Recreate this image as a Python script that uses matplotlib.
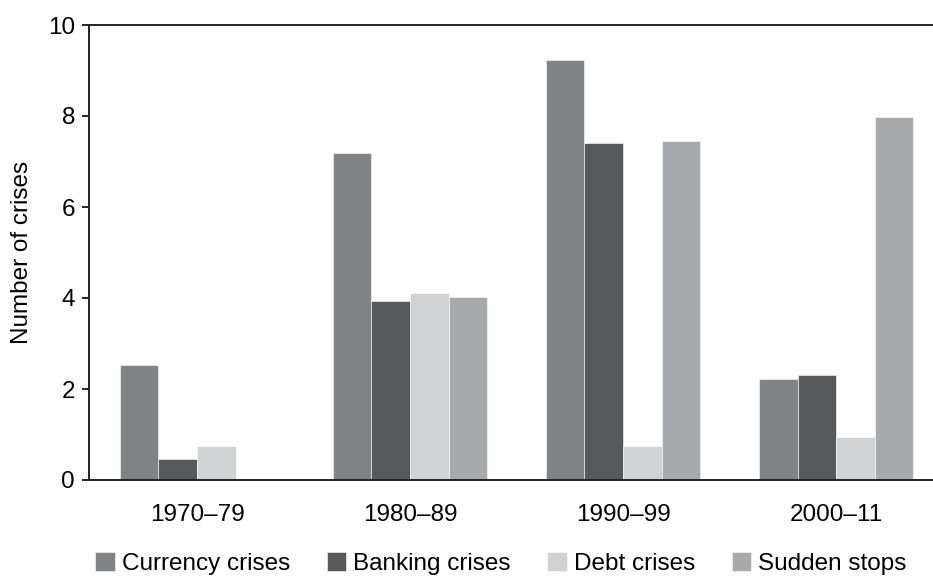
import matplotlib
matplotlib.use("Agg")
import matplotlib.pyplot as plt
import numpy as np

periods = ["1970\u201379", "1980\u201389", "1990\u201399", "2000\u201311"]
series_names = ["Currency crises", "Banking crises", "Debt crises", "Sudden stops"]
currency = [2.52, 7.19, 9.23, 2.21]
banking = [0.46, 3.93, 7.41, 2.30]
debt = [0.75, 4.10, 0.75, 0.94]
sudden = [0.0, 4.03, 7.46, 7.98]
colors = ["#808285", "#58595b", "#d1d2d4", "#a7a9ac"]

plt.rcParams['font.family'] = ['Liberation Sans', 'DejaVu Sans']

fig = plt.figure(figsize=(9.33, 5.76), dpi=100)
ax = fig.add_axes([89/933, 96/576, 1 - 89/933, (480-25)/576])

x = np.arange(len(periods))
w = 0.181
data = [currency, banking, debt, sudden]
for i, (vals, name, c) in enumerate(zip(data, series_names, colors)):
    ax.bar(x + (i - 1.5) * w, vals, width=w, color=c, label=name,
           edgecolor="white", linewidth=0.4)

ax.set_xlim(-0.507, 3.455)
ax.set_ylim(0, 10)
ax.set_yticks([0, 2, 4, 6, 8, 10])
ax.set_xticks(x)
ax.set_xticklabels(periods)
ax.tick_params(axis='x', length=0, pad=17, labelsize=17.5)
ax.tick_params(axis='y', length=5, width=1.2, pad=5, labelsize=17.5, direction='out')
for s in ['left', 'top', 'bottom']:
    ax.spines[s].set_linewidth(1.4)
    ax.spines[s].set_color('#222222')
ax.spines['right'].set_visible(False)
ax.set_ylabel("Number of crises", fontsize=17.5, labelpad=11)

fig.legend(loc='center', bbox_to_anchor=(0.537, 0.022), ncol=4, frameon=False,
           fontsize=17.5, handlelength=0.8, handleheight=0.8, handletextpad=0.3,
           columnspacing=1.5, borderpad=0, borderaxespad=0)

fig.savefig("out.png", dpi=100)
